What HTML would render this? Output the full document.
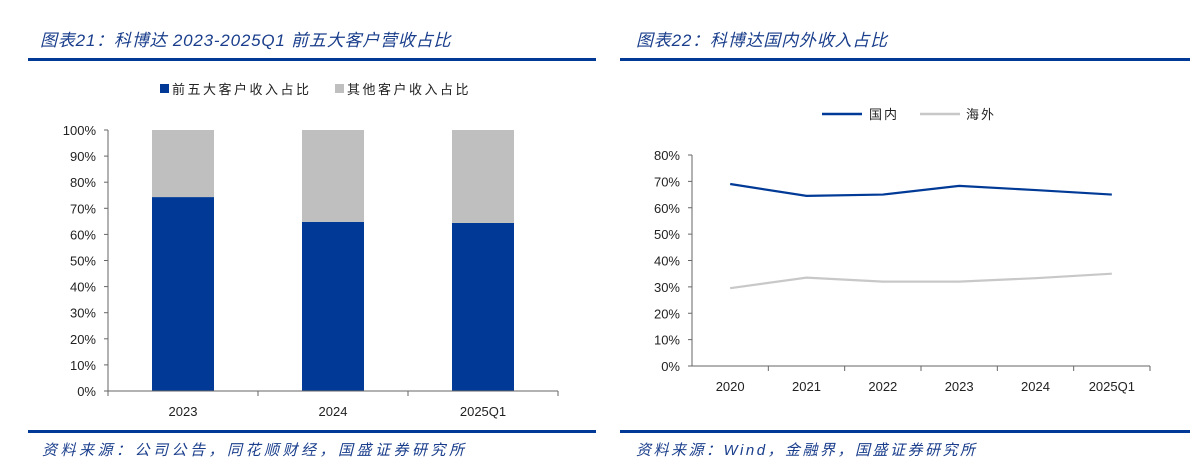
<!DOCTYPE html>
<html><head><meta charset="utf-8"><style>
body{margin:0;width:1204px;height:470px;background:#fff;overflow:hidden;font-family:"Liberation Sans","Noto Sans CJK SC",sans-serif;}
svg{position:absolute;left:0;top:0}
.t{font-style:italic;fill:#1a3e8c;}
</style></head><body>
<svg width="1204" height="470">
<text class="t" x="40" y="46" font-size="17" letter-spacing="0.8">图表21：科博达 2023-2025Q1 前五大客户营收占比</text>
<rect x="28" y="58" width="568" height="3" fill="#003a96"/>
<text class="t" x="636" y="46" font-size="17" letter-spacing="0.8">图表22：科博达国内外收入占比</text>
<rect x="620" y="58" width="570" height="3" fill="#003a96"/>
<rect x="28" y="430" width="568" height="3" fill="#003a96"/>
<rect x="620" y="430" width="570" height="3" fill="#003a96"/>
<text class="t" x="42" y="455" font-size="15" letter-spacing="3.5">资料来源：公司公告，同花顺财经，国盛证券研究所</text>
<text class="t" x="636" y="455" font-size="15" letter-spacing="2.5">资料来源：Wind，金融界，国盛证券研究所</text>
<g>
<rect x="160" y="84" width="9" height="9" fill="#003a96"/>
<text x="172" y="94" font-size="13" letter-spacing="2.5" fill="#222">前五大客户收入占比</text>
<rect x="335" y="84" width="9" height="9" fill="#bfbfbf"/>
<text x="347" y="94" font-size="13" letter-spacing="2.5" fill="#222">其他客户收入占比</text>
</g>
<g id="left"></g>
<g>
<line x1="822" y1="114" x2="862" y2="114" stroke="#003a96" stroke-width="2.5"/>
<text x="869" y="119" font-size="13" letter-spacing="2" fill="#222">国内</text>
<line x1="920" y1="114" x2="960" y2="114" stroke="#c8c8c8" stroke-width="2.5"/>
<text x="966" y="119" font-size="13" letter-spacing="2" fill="#222">海外</text>
</g>
<g id="right"></g>
</svg>
<script>
const barCats=["2023","2024","2025Q1"];
const top5=[74.3,64.8,64.4];
const leftTicks=[0,10,20,30,40,50,60,70,80,90,100];
const lineCats=["2020","2021","2022","2023","2024","2025Q1"];
const domestic=[69,64.5,65,68.3,66.7,65];
const overseas=[29.5,33.5,32,32,33.3,35];
const rightTicks=[0,10,20,30,40,50,60,70,80];
const NS="http://www.w3.org/2000/svg";
function mk(p,tag,a,txt){const e=document.createElementNS(NS,tag);for(const k in a)e.setAttribute(k,a[k]);if(txt!==undefined)e.textContent=txt;p.appendChild(e);return e;}
// left
const L=document.getElementById('left');
const lx0=108,lx1=558,ly0=391,ly1=130;
const ly=v=>ly0-(ly0-ly1)*v/100;
const lbw=(lx1-lx0)/barCats.length;
const lax=mk(L,'line',{x1:lx0,y1:ly1,x2:lx0,y2:ly0,stroke:'#666'});


leftTicks.forEach(t=>{
 const tk=mk(L,'line',{x1:lx0-4,y1:ly(t),x2:lx0,y2:ly(t),stroke:'#666'});
 
 
 const tl=mk(L,'text',{x:lx0-12,y:ly(t)+5,'font-size':13,'text-anchor':'end',fill:'#222'},t+'%');
 
 
});
barCats.forEach((c,i)=>{
 const cx=lx0+lbw*(i+0.5);
 const b1=mk(L,'rect',{x:cx-31,y:ly(top5[i]),width:62,height:ly0-ly(top5[i]),fill:'#003a96'});
 
 
 const b2=mk(L,'rect',{x:cx-31,y:ly(100),width:62,height:ly(top5[i])-ly(100),fill:'#bfbfbf'});
 
 
 const xl=mk(L,'text',{x:cx,y:416,'font-size':13,'text-anchor':'middle',fill:'#222'},c);
 
 
});
const lxa=mk(L,'line',{x1:lx0,y1:ly0,x2:lx1,y2:ly0,stroke:'#666'});


for(let i=0;i<=barCats.length;i++){const t=mk(L,'line',{x1:lx0+lbw*i,y1:ly0,x2:lx0+lbw*i,y2:ly0+5,stroke:'#666'});
 
 }
// right
const R=document.getElementById('right');
const rx0=692,rx1=1150,ry0=366,ry1=155;
const ry=v=>ry0-(ry0-ry1)*v/80;
const rbw=(rx1-rx0)/lineCats.length;
const rx=i=>rx0+rbw*(i+0.5);
const ray=mk(R,'line',{x1:rx0,y1:ry1,x2:rx0,y2:ry0,stroke:'#666'});


rightTicks.forEach(t=>{
 const tk=mk(R,'line',{x1:rx0-4,y1:ry(t),x2:rx0,y2:ry(t),stroke:'#666'});
 
 
 const tl=mk(R,'text',{x:rx0-12,y:ry(t)+5,'font-size':13,'text-anchor':'end',fill:'#222'},t+'%');
 
 
});
const rxa=mk(R,'line',{x1:rx0,y1:ry0,x2:rx1,y2:ry0,stroke:'#666'});


lineCats.forEach((c,i)=>{
 const t=mk(R,'line',{x1:rx0+rbw*(i+1),y1:ry0,x2:rx0+rbw*(i+1),y2:ry0+5,stroke:'#666'});
 
 
 const xl=mk(R,'text',{x:rx(i),y:391,'font-size':13,'text-anchor':'middle',fill:'#222'},c);
 
 
});
const p1=mk(R,'polyline',{points:domestic.map((v,i)=>rx(i)+','+ry(v)).join(' '),fill:'none',stroke:'#003a96','stroke-width':2.2});


const p2=mk(R,'polyline',{points:overseas.map((v,i)=>rx(i)+','+ry(v)).join(' '),fill:'none',stroke:'#c8c8c8','stroke-width':2.2});


</script>
</body></html>
